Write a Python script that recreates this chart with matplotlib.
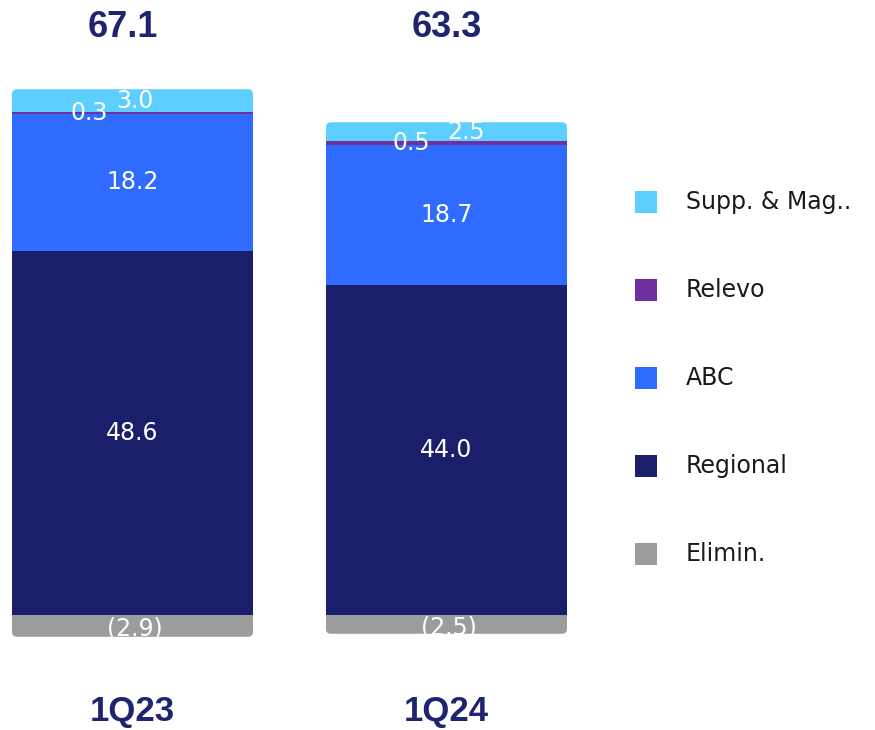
import matplotlib
matplotlib.use("Agg")
import matplotlib.pyplot as plt
from matplotlib.patches import FancyBboxPatch

# Revenue by business unit (stacked), two quarters
periods = ["1Q23", "1Q24"]
totals = [67.1, 63.3]
segments = ["Regional", "ABC", "Relevo", "Supp. & Mag.."]
regional = [48.6, 44.0]
abc = [18.2, 18.7]
relevo = [0.3, 0.5]
supp_mag = [3.0, 2.5]
elimin = [-2.9, -2.5]

legend_order = ["Supp. & Mag..", "Relevo", "ABC", "Regional", "Elimin."]

colors = {
    "Regional": "#1b1f6b",
    "ABC": "#2f6bff",
    "Relevo": "#7030a0",
    "Supp. & Mag..": "#5ccfff",
    "Elimin.": "#9c9c9c",
}
navy_text = "#1f2470"
body_font = ["DejaVu Sans"]
head_font = ["Liberation Sans", "DejaVu Sans"]

fig = plt.figure(figsize=(8.75, 7.3), dpi=100)
ax = fig.add_axes([0, 0, 1, 1])
ax.set_xlim(-0.422, 2.365)
ax.set_ylim(-15.33, 82.0)
ax.axis("off")

width = 0.768
x = list(range(len(periods)))
series = {"Regional": regional, "ABC": abc, "Relevo": relevo, "Supp. & Mag..": supp_mag}

# horizontal label offsets (points) for the thin top segments
label_dx = {
    "Regional": [0, 0], "ABC": [0, 0],
    "Relevo": [-31, -25], "Supp. & Mag..": [2, 14],
}
total_dx = [-7, 0]

px_x = 1 / 314.0
px_y = 1 / 7.5

for i in x:
    bottom = 0.0
    patches = []
    for name in segments:
        v = series[name][i]
        b = ax.bar(i, v, width, bottom=bottom, color=colors[name], linewidth=0)
        patches.extend(b.patches)
        ax.annotate(f"{v:.1f}", (i, bottom + v / 2), xytext=(label_dx[name][i], 0),
                    textcoords="offset points", ha="center", va="center",
                    color="white", fontsize=17, family=body_font)
        bottom += v
    e = elimin[i]
    b = ax.bar(i, e, width, bottom=0, color=colors["Elimin."], linewidth=0)
    patches.extend(b.patches)
    ax.annotate(f"({abs(e):.1f})", (i, e / 2), xytext=(2, -2), textcoords="offset points",
                ha="center", va="center", color="white", fontsize=17, family=body_font)

    # rounded outline of the whole column, used as clip
    r = 5 * px_x
    clip = FancyBboxPatch((i - width / 2, e), width, bottom - e,
                          boxstyle=f"round,pad=0,rounding_size={r}",
                          mutation_aspect=px_y / px_x,
                          transform=ax.transData, facecolor="none", edgecolor="none")
    ax.add_patch(clip)
    for p in patches:
        p.set_clip_path(clip)

    ax.annotate(f"{totals[i]:.1f}", (i, 78.4), xytext=(total_dx[i], 0),
                textcoords="offset points", ha="center", va="center",
                fontsize=26, fontweight="bold", color=navy_text, family=head_font)
    ax.annotate(periods[i], (i, -12.9), ha="center", va="center",
                fontsize=25, fontweight="bold", color=navy_text, family=head_font)

# legend: swatch + label per row
leg_y0 = 1 - 202 / 730
leg_step = 88 / 730
for k, name in enumerate(legend_order):
    yy = leg_y0 - k * leg_step
    ax.scatter([646 / 875], [yy], s=250, marker="s", color=colors[name],
               transform=ax.transAxes, linewidths=0, clip_on=False)
    ax.text(686 / 875, yy, name, transform=ax.transAxes, ha="left", va="center",
            fontsize=17, family=body_font, color="#1a1a1a")

fig.savefig("out.png", dpi=100)
